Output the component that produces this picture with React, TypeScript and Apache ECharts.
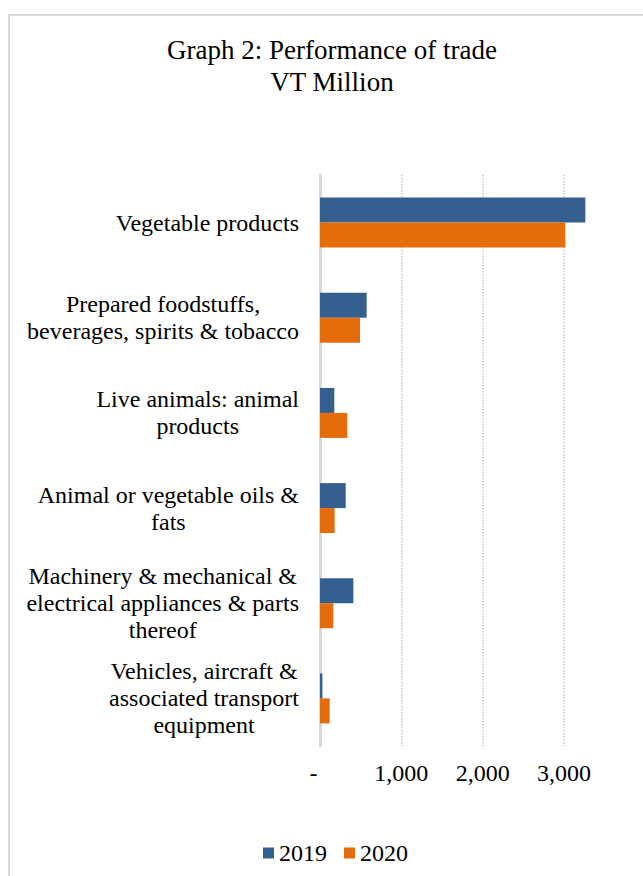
import React, { useEffect, useRef } from "react";
import * as echarts from "echarts";

const categories = [
  "Vegetable products",
  "Prepared foodstuffs,\nbeverages, spirits & tobacco",
  "Live animals: animal\nproducts",
  "Animal or vegetable oils &\nfats",
  "Machinery & mechanical &\nelectrical appliances & parts\nthereof",
  "Vehicles, aircraft &\nassociated transport\nequipment",
];
const values2019 = [3263, 574, 176, 316, 410, 30];
const values2020 = [3017, 492, 336, 180, 164, 119];
const seriesNames = ["2019", "2020"];
const titleLines = ["Graph 2: Performance of trade", "VT Million"];

const FONT = "'Liberation Serif', 'Times New Roman', serif";

export default function App() {
  const ref = useRef<HTMLDivElement>(null);
  useEffect(() => {
    if (!ref.current) return;
    const chart = echarts.init(ref.current, undefined, { renderer: "svg" });
    chart.setOption({
      animation: false,
      backgroundColor: "#ffffff",
      textStyle: { fontFamily: FONT },
      graphic: [
        {
          type: "rect",
          shape: { x: 9, y: 15, width: 700, height: 900 },
          style: { fill: "none", stroke: "#d9d9d9", lineWidth: 2 },
          silent: true,
        },
        {
          type: "text",
          x: 332,
          y: 34,
          style: {
            text: titleLines.join("\n"),
            fontFamily: FONT,
            fontSize: 27,
            lineHeight: 32,
            fill: "#000",
            align: "center",
            verticalAlign: "top",
          },
        },
      ],
      legend: {
        data: seriesNames,
        left: 258,
        top: 836,
        itemWidth: 11,
        itemHeight: 11,
        itemGap: 17,
        icon: "rect",
        textStyle: { fontFamily: FONT, fontSize: 24, color: "#000" },
      },
      grid: { left: 320, top: 175, width: 284.6, height: 571, containLabel: false },
      xAxis: {
        type: "value",
        min: 0,
        max: 3500,
        interval: 1000,
        axisLine: { show: false },
        axisTick: { show: false },
        splitLine: {
          show: true,
          showMinLine: false,
          showMaxLine: false,
          lineStyle: { color: "#c8c8c8", width: 1.5, type: [1.5, 1.5] },
        },
        axisLabel: {
          margin: 15,
          showMaxLabel: false,
          fontFamily: FONT,
          fontSize: 24,
          color: "#000",
          formatter: (v: number) =>
            v === 0 ? "{z|-}" : v.toLocaleString("en-US"),
          rich: {
            z: { fontFamily: FONT, fontSize: 24, color: "#000", padding: [0, 13, 0, 0] },
          },
        },
      },
      yAxis: {
        type: "category",
        data: categories,
        inverse: true,
        axisLine: { show: true, lineStyle: { color: "#d9d9d9", width: 3 } },
        axisTick: { show: false },
        axisLabel: {
          margin: 21,
          interval: 0,
          formatter: (v: string) =>
            v
              .split("\n")
              .map((l) => "{c|" + l + "}")
              .join("\n"),
          rich: {
            c: {
              align: "center",
              fontFamily: FONT,
              fontSize: 24,
              lineHeight: 27,
              color: "#000",
            },
          },
        },
      },
      series: [
        {
          name: seriesNames[0],
          type: "bar",
          data: values2019,
          barGap: "0%",
          barCategoryGap: "47.5%",
          itemStyle: { color: "#355F8E" },
        },
        {
          name: seriesNames[1],
          type: "bar",
          data: values2020,
          barGap: "0%",
          barCategoryGap: "47.5%",
          itemStyle: { color: "#E46C0A" },
        },
      ],
    });
    return () => chart.dispose();
  }, []);
  return (
    <div
      ref={ref}
      style={{ position: "fixed", left: 0, top: 0, width: 643, height: 876 }}
    />
  );
}
